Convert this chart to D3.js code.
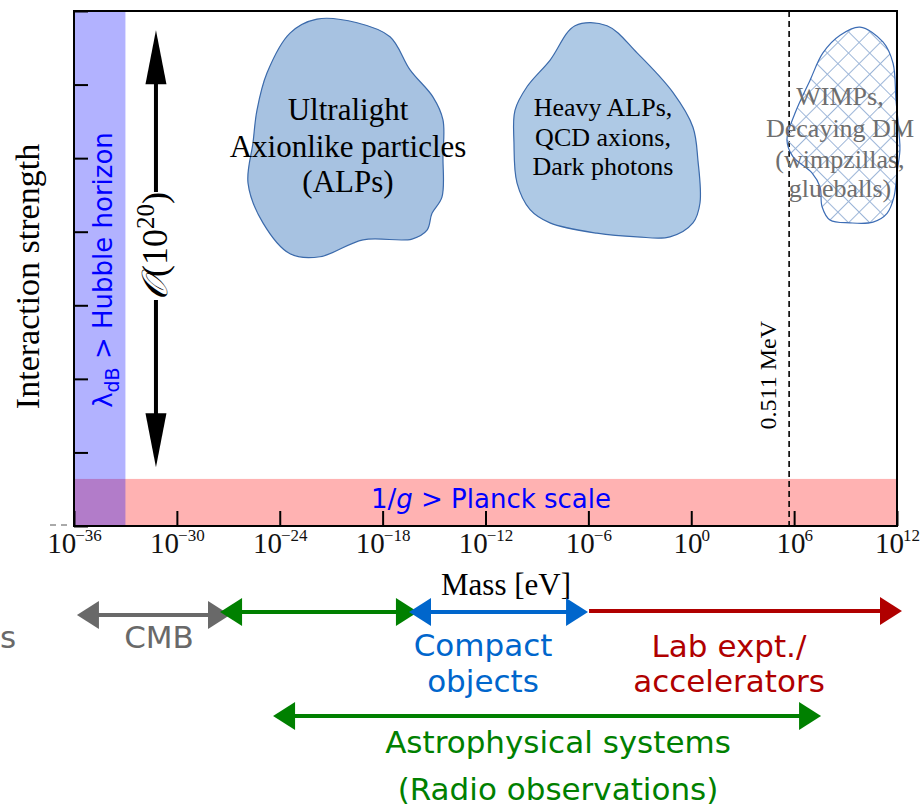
<!DOCTYPE html>
<html>
<head>
<meta charset="utf-8">
<script src="https://cdn.jsdelivr.net/npm/d3@7"></script>
<style>
  body { margin: 0; background: #fff; }
  svg { display: block; }
</style>
</head>
<body>
<svg id="chart" width="920" height="807"></svg>
<script>
// ---- data (mass in powers of ten of eV, interaction strength in arbitrary units) ----
const massTickExps = [-36, -30, -24, -18, -12, -6, 0, 6, 12];
const massTickLabels = ["−36", "−30", "−24", "−18", "−12", "−6", "0", "6", "12"];
const strengthTicks = [0, 1, 2, 3, 4, 5, 6, 7];

const hubbleBandExps = [-36, -33];          // de Broglie wavelength beyond the horizon
const planckBandStrength = [0, 0.64];       // coupling weaker than gravity
const electronMassEV = 0.511e6;

const hierarchyArrowExp = -31.22;
const hierarchyArrowSpan = [0.80, 6.74];

const alpsBlob = [
  [-23.40, 6.70], [-21.83, 6.89], [-19.49, 6.84], [-17.57, 6.65], [-16.40, 6.20],
  [-15.06, 5.83], [-14.48, 5.52], [-14.48, 5.02], [-14.54, 4.47], [-15.12, 4.25],
  [-15.41, 4.02], [-16.29, 3.90], [-19.14, 3.89], [-21.65, 3.66], [-23.40, 3.70],
  [-24.98, 4.12], [-25.85, 4.66], [-25.56, 5.21], [-25.33, 5.65], [-24.74, 6.16]
];
const heavyBlob = [
  [-6.78, 6.80], [-4.91, 6.80], [-3.16, 6.43], [-1.06, 5.89], [0.10, 5.42],
  [0.39, 4.97], [0.51, 4.39], [0.10, 4.12], [-1.24, 3.93], [-3.16, 3.93],
  [-5.50, 3.98], [-8.24, 4.12], [-9.40, 4.30], [-10.16, 4.66], [-10.34, 5.21],
  [-10.28, 5.65], [-9.58, 5.97], [-8.24, 6.33]
];
const wimpBlob = [
  [9.84, 6.78], [11.18, 6.58], [11.77, 6.29], [11.94, 5.79], [12.12, 5.34],
  [12.17, 5.11], [12.00, 4.80], [11.82, 4.47], [11.42, 4.25], [10.60, 4.13],
  [9.26, 4.12], [8.09, 4.16], [7.63, 4.34], [7.51, 4.61], [7.04, 4.80],
  [5.93, 5.02], [5.58, 5.25], [6.05, 5.61], [6.93, 6.06], [7.68, 6.43], [8.68, 6.67]
];

const alpsLabel = ["Ultralight", "Axionlike particles", "(ALPs)"];
const heavyLabel = ["Heavy ALPs,", "QCD axions,", "Dark photons"];
const wimpLabel = ["WIMPs,", "Decaying DM", "(wimpzillas,", "glueballs)"];

// probe ranges along the mass axis
const cmbRange = [-35.83, -26.90];
const radioUpperRange = [-27.48, -15.94];
const compactRange = [-16.46, -6.02];
const labRange = [-5.96, 12.29];
const astroRange = [-24.39, 7.57];

// ---- layout ----
const plot = { left: 74, right: 897, top: 11, bottom: 526 };
const svg = d3.select("#chart");

const x = d3.scaleLog().domain([1e-36, 1e12]).range([plot.left, plot.right]);
const y = d3.scaleLinear().domain([0, 7]).range([plot.bottom, plot.top]);
const xe = e => x(Math.pow(10, e));

const SERIF = "'Liberation Serif', 'Times New Roman', serif";
const SANS = "'DejaVu Sans', sans-serif";

const defs = svg.append("defs");
const hatch = defs.append("pattern")
  .attr("id", "crosshatch")
  .attr("patternUnits", "userSpaceOnUse")
  .attr("width", 15).attr("height", 15)
  .attr("patternTransform", "rotate(45)");
hatch.append("path")
  .attr("d", "M0,7.5H15M7.5,0V15")
  .attr("stroke", "#9db6d8").attr("stroke-width", 1).attr("fill", "none");

// shaded regions
svg.append("rect")
  .attr("x", plot.left).attr("width", plot.right - plot.left)
  .attr("y", y(planckBandStrength[1]))
  .attr("height", y(planckBandStrength[0]) - y(planckBandStrength[1]))
  .attr("fill", "rgb(255,0,0)").attr("fill-opacity", 0.3);
svg.append("rect")
  .attr("x", xe(hubbleBandExps[0])).attr("width", xe(hubbleBandExps[1]) - xe(hubbleBandExps[0]))
  .attr("y", plot.top).attr("height", plot.bottom - plot.top)
  .attr("fill", "rgb(0,0,255)").attr("fill-opacity", 0.3);

// electron mass marker
svg.append("line")
  .attr("x1", x(electronMassEV)).attr("x2", x(electronMassEV))
  .attr("y1", y(7)).attr("y2", y(0))
  .attr("stroke", "#000").attr("stroke-width", 1.6).attr("stroke-dasharray", "6,4");
svg.append("text")
  .attr("transform", `translate(${x(electronMassEV) - 13},${y(2.05)}) rotate(-90)`)
  .attr("text-anchor", "middle")
  .attr("font-family", SERIF).attr("font-size", 24).attr("fill", "#000")
  .text("0.511 MeV");

// dark-matter candidate regions
const blobLine = d3.line()
  .x(d => xe(d[0])).y(d => y(d[1]))
  .curve(d3.curveCatmullRomClosed.alpha(0.5));

svg.append("path").attr("d", blobLine(alpsBlob))
  .attr("fill", "#a7c2e1").attr("stroke", "#3b6aab").attr("stroke-width", 1.2);
svg.append("path").attr("d", blobLine(heavyBlob))
  .attr("fill", "#aec9e5").attr("stroke", "#3b6aab").attr("stroke-width", 1.2);
svg.append("path").attr("d", blobLine(wimpBlob))
  .attr("fill", "url(#crosshatch)").attr("stroke", "#3d6db5").attr("stroke-width", 1.2);

function stackedLabel(lines, cx, baselines, size, color) {
  const t = svg.append("text")
    .attr("text-anchor", "middle")
    .attr("font-family", SERIF).attr("font-size", size).attr("fill", color);
  lines.forEach((s, i) => t.append("tspan").attr("x", cx).attr("y", baselines[i]).text(s));
}
stackedLabel(alpsLabel, 348, [120, 157, 192], 31, "#000");
stackedLabel(heavyLabel, 603, [116, 146, 175], 26, "#000");
stackedLabel(wimpLabel, 840, [105, 137, 168, 197], 26, "#6e6e6e");

// axes
const gx = svg.append("g")
  .attr("transform", `translate(0,${plot.bottom})`)
  .call(d3.axisBottom(x)
    .tickValues(massTickExps.map(e => Math.pow(10, e)))
    .tickSizeInner(-15).tickSizeOuter(0)
    .tickFormat(() => ""));
gx.select(".domain").remove();
gx.selectAll(".tick line").attr("stroke", "#000").attr("stroke-width", 2);
gx.selectAll(".tick text").each(function (d, i) {
  const t = d3.select(this);
  t.attr("y", 27).attr("dy", 0)
    .attr("font-family", SERIF).attr("font-size", 29).attr("fill", "#111");
  t.append("tspan").text("10");
  t.append("tspan").attr("dy", -12).attr("dx", -1).attr("font-size", 17).text(massTickLabels[i]);
});

const gy = svg.append("g")
  .attr("transform", `translate(${plot.left},0)`)
  .call(d3.axisLeft(y).tickValues(strengthTicks).tickSizeInner(-14).tickSizeOuter(0).tickFormat(() => ""));
gy.select(".domain").remove();
gy.selectAll(".tick line").attr("stroke", "#000").attr("stroke-width", 2);

svg.append("rect")
  .attr("x", plot.left).attr("y", plot.top)
  .attr("width", plot.right - plot.left).attr("height", plot.bottom - plot.top)
  .attr("fill", "none").attr("stroke", "#000").attr("stroke-width", 2);

// small dashed stub left of the origin
svg.append("line")
  .attr("x1", 50).attr("x2", 67).attr("y1", 525).attr("y2", 525)
  .attr("stroke", "#555").attr("stroke-width", 1).attr("stroke-dasharray", "6,5");

// axis titles
svg.append("text")
  .attr("transform", `translate(39,${(plot.top + plot.bottom) / 2 + 8}) rotate(-90)`)
  .attr("text-anchor", "middle")
  .attr("font-family", SERIF).attr("font-size", 34).attr("fill", "#000")
  .text("Interaction strength");
svg.append("text")
  .attr("x", 506).attr("y", 595)
  .attr("text-anchor", "middle")
  .attr("font-family", SERIF).attr("font-size", 31).attr("fill", "#000")
  .text("Mass [eV]");

// band annotations
const hub = svg.append("text")
  .attr("transform", `translate(112,270) rotate(-90)`)
  .attr("text-anchor", "middle")
  .attr("font-family", SANS).attr("font-size", 26).attr("fill", "#0000ff");
hub.append("tspan").text("λ");
hub.append("tspan").attr("dy", 7).attr("font-size", 19).text("dB");
hub.append("tspan").attr("dy", -7).text(" > Hubble horizon");

const planck = svg.append("text")
  .attr("x", 491).attr("y", 508)
  .attr("text-anchor", "middle")
  .attr("font-family", SANS).attr("font-size", 26).attr("fill", "#0000ff");
planck.append("tspan").text("1/");
planck.append("tspan").attr("font-style", "italic").text("g");
planck.append("tspan").text(" > Planck scale");

// hierarchy arrow with its label
const ax = xe(hierarchyArrowExp);
const yLo = y(hierarchyArrowSpan[0]), yHi = y(hierarchyArrowSpan[1]);
const labelCenter = 246;
const ord = svg.append("text")
  .attr("transform", `translate(${ax + 11},${labelCenter}) rotate(-90)`)
  .attr("text-anchor", "middle")
  .attr("font-family", SERIF).attr("font-size", 36).attr("fill", "#000");
ord.append("tspan").attr("font-style", "italic").text("𝒪");
ord.append("tspan").text("(10");
ord.append("tspan").attr("dy", -13).attr("font-size", 25).text("20");
ord.append("tspan").attr("dy", 13).text(")");
const half = ord.node().getComputedTextLength() / 2;

const headLen = 54, headHalf = 10.5;
svg.append("line").attr("x1", ax).attr("x2", ax)
  .attr("y1", yHi + headLen - 2).attr("y2", labelCenter - half)
  .attr("stroke", "#000").attr("stroke-width", 4);
svg.append("line").attr("x1", ax).attr("x2", ax)
  .attr("y1", labelCenter + half).attr("y2", yLo - headLen + 2)
  .attr("stroke", "#000").attr("stroke-width", 4);
svg.append("path")
  .attr("d", `M${ax},${yHi}L${ax - headHalf},${yHi + headLen}L${ax + headHalf},${yHi + headLen}Z`)
  .attr("fill", "#000");
svg.append("path")
  .attr("d", `M${ax},${yLo}L${ax - headHalf},${yLo - headLen}L${ax + headHalf},${yLo - headLen}Z`)
  .attr("fill", "#000");

// probe ranges below the axis
function rangeArrow(range, yy, color, startHead, endHead) {
  const x1 = xe(range[0]), x2 = xe(range[1]);
  const hl = 22, hh = 14;
  const g = svg.append("g");
  g.append("line")
    .attr("x1", startHead ? x1 + hl - 1 : x1).attr("x2", endHead ? x2 - hl + 1 : x2)
    .attr("y1", yy).attr("y2", yy)
    .attr("stroke", color).attr("stroke-width", 4);
  if (startHead) g.append("path")
    .attr("d", `M${x1},${yy}L${x1 + hl},${yy - hh}L${x1 + hl},${yy + hh}Z`).attr("fill", color);
  if (endHead) g.append("path")
    .attr("d", `M${x2},${yy}L${x2 - hl},${yy - hh}L${x2 - hl},${yy + hh}Z`).attr("fill", color);
}
const GRAY = "#696969", GREEN = "#008000", BLUE = "#0066cc", RED = "#b00000";
rangeArrow(cmbRange, 615, GRAY, true, true);
rangeArrow(radioUpperRange, 612, GREEN, true, true);
rangeArrow(compactRange, 612, BLUE, true, true);
rangeArrow(labRange, 611, RED, false, true);
rangeArrow(astroRange, 716, GREEN, true, true);

function sansLabel(lines, cx, baselines, color) {
  const t = svg.append("text")
    .attr("text-anchor", "middle")
    .attr("font-family", SANS).attr("font-size", 31).attr("fill", color);
  lines.forEach((s, i) => t.append("tspan").attr("x", cx).attr("y", baselines[i]).text(s));
}
svg.append("text").attr("x", 0).attr("y", 648)
  .attr("font-family", SANS).attr("font-size", 31).attr("fill", GRAY).text("s");
sansLabel(["CMB"], 159, [648], GRAY);
sansLabel(["Compact", "objects"], 483, [656, 692], BLUE);
sansLabel(["Lab expt./", "accelerators"], 729, [657, 692], RED);
sansLabel(["Astrophysical systems", "(Radio observations)"], 558, [753, 800], GREEN);
</script>
</body>
</html>
